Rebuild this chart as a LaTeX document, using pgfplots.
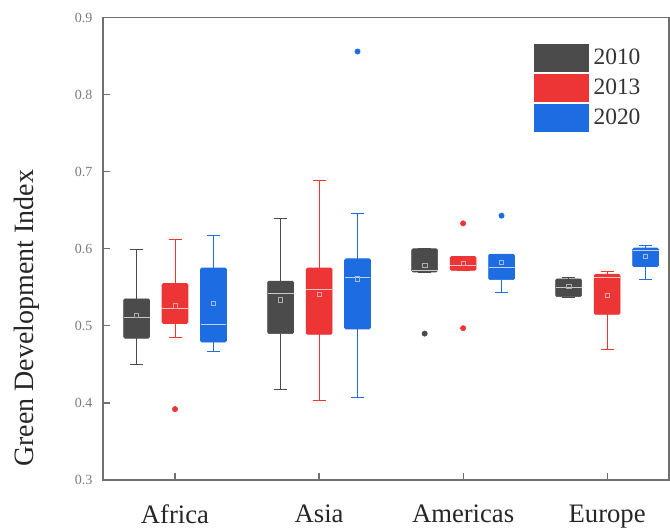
\documentclass[border=0pt]{standalone}
\usepackage{fontspec}
\setmainfont{Liberation Serif}
\usepackage{pgfplots}
\pgfplotsset{compat=1.18}
\usepgfplotslibrary{statistics}

\definecolor{c10}{HTML}{4B4B4B}
\definecolor{c13}{HTML}{EE3535}
\definecolor{c20}{HTML}{1D6CE2}
\definecolor{axisgray}{HTML}{707070}
\definecolor{labelgray}{HTML}{7A7A7A}

% one styled box per region and year
\pgfplotsset{
  gbox/.style={
    solid, draw=#1, forget plot,
    mark=*, mark size=2pt, mark options={draw=#1, fill=#1},
    boxplot/draw direction=y,
    boxplot/box extend=0.18,
    boxplot/whisker extend=0.09,
    boxplot/every box/.style={draw=#1, fill=#1, rounded corners=1pt, line width=0.5pt},
    boxplot/every whisker/.style={draw=#1, line width=0.5pt},
    boxplot/every median/.style={draw=white!70!#1, line width=0.7pt},
  },
  % group means, drawn as small open squares on top of the boxes
  gmean/.style={
    only marks, forget plot, mark=square, mark size=1.6pt,
    mark options={draw=white!55!#1, fill=none, line width=0.4pt},
  },
}

\begin{document}
\begin{tikzpicture}
\begin{axis}[
  name=ax,
  scale only axis,
  width=424.5pt, height=346.8pt,
  xmin=0.5, xmax=4.43,
  ymin=0.3, ymax=0.9,
  xtick={1,2,3,4},
  xticklabels={Africa,Asia,Americas,Europe},
  ytick={0.3,0.4,0.5,0.6,0.7,0.8,0.9},
  tick align=inside,
  tick pos=left,
  major tick length=5pt,
  every tick/.style={axisgray, line width=0.9pt},
  axis line style={axisgray, line width=1.3pt},
  /pgf/number format/assume math mode=true,
  yticklabel style={/pgf/number format/.cd, fixed, fixed zerofill, precision=1,
    /tikz/.cd, font=\fontsize{10.5}{12}\selectfont, text=labelgray, xshift=-4.5pt},
  xticklabel style={font=\fontsize{20}{24}\selectfont, text=black!85, yshift=-15pt},
  ylabel={Green Development Index},
  ylabel style={at={(axis description cs:-0.1343,0.35)}, anchor=center,
    font=\fontsize{21}{25}\selectfont, text=black!85},
  legend style={at={(axis description cs:0.7615,0.943)}, anchor=north west,
    draw=none, fill=none, inner sep=0pt, row sep=1.5pt,
    font=\fontsize{17.6}{20}\selectfont, text=black!80,
    nodes={inner sep=0pt, anchor=west},
    /tikz/every odd column/.append style={column sep=3.5pt}},
  legend cell align=left,
]
% Africa
\addplot[gbox=c10, boxplot prepared={draw position=0.733,
  lower whisker=0.450, lower quartile=0.484, median=0.511,
  upper quartile=0.535, upper whisker=0.599}] coordinates {};
\addplot[gbox=c13, boxplot prepared={draw position=1.0,
  lower whisker=0.485, lower quartile=0.503, median=0.523,
  upper quartile=0.555, upper whisker=0.612}] coordinates {(0,0.392)};
\addplot[gbox=c20, boxplot prepared={draw position=1.267,
  lower whisker=0.467, lower quartile=0.479, median=0.502,
  upper quartile=0.575, upper whisker=0.618}] coordinates {};
% Asia
\addplot[gbox=c10, boxplot prepared={draw position=1.733,
  lower whisker=0.418, lower quartile=0.490, median=0.542,
  upper quartile=0.558, upper whisker=0.639}] coordinates {};
\addplot[gbox=c13, boxplot prepared={draw position=2.0,
  lower whisker=0.404, lower quartile=0.489, median=0.547,
  upper quartile=0.575, upper whisker=0.689}] coordinates {};
\addplot[gbox=c20, boxplot prepared={draw position=2.267,
  lower whisker=0.407, lower quartile=0.496, median=0.563,
  upper quartile=0.587, upper whisker=0.646}] coordinates {(0,0.856)};
% Americas
\addplot[gbox=c10, boxplot prepared={draw position=2.733,
  lower whisker=0.570, lower quartile=0.570, median=0.572,
  upper quartile=0.600, upper whisker=0.600}] coordinates {(0,0.490)};
\addplot[gbox=c13, boxplot prepared={draw position=3.0,
  lower whisker=0.572, lower quartile=0.572, median=0.579,
  upper quartile=0.590, upper whisker=0.590}] coordinates {(0,0.497) (0,0.633)};
\addplot[gbox=c20, boxplot prepared={draw position=3.267,
  lower whisker=0.543, lower quartile=0.560, median=0.576,
  upper quartile=0.593, upper whisker=0.593}] coordinates {(0,0.643)};
% Europe
\addplot[gbox=c10, boxplot prepared={draw position=3.733,
  lower whisker=0.537, lower quartile=0.538, median=0.550,
  upper quartile=0.561, upper whisker=0.563}] coordinates {};
\addplot[gbox=c13, boxplot prepared={draw position=4.0,
  lower whisker=0.470, lower quartile=0.515, median=0.563,
  upper quartile=0.567, upper whisker=0.571}] coordinates {};
\addplot[gbox=c20, boxplot prepared={draw position=4.267,
  lower whisker=0.561, lower quartile=0.577, median=0.598,
  upper quartile=0.601, upper whisker=0.604}] coordinates {};

% means per year
\addplot[gmean=c10] coordinates {(0.733,0.514) (1.733,0.534) (2.733,0.579) (3.733,0.551)};
\addplot[gmean=c13] coordinates {(1.0,0.526) (2.0,0.541) (3.0,0.581) (4.0,0.540)};
\addplot[gmean=c20] coordinates {(1.267,0.529) (2.267,0.561) (3.267,0.583) (4.267,0.590)};

\addlegendimage{legend image code/.code={\fill[c10] (0pt,-10.2pt) rectangle (40.5pt,10.2pt);}}
\addlegendentry{2010}
\addlegendimage{legend image code/.code={\fill[c13] (0pt,-10.2pt) rectangle (40.5pt,10.2pt);}}
\addlegendentry{2013}
\addlegendimage{legend image code/.code={\fill[c20] (0pt,-10.2pt) rectangle (40.5pt,10.2pt);}}
\addlegendentry{2020}
\end{axis}
\pgfresetboundingbox
\path[use as bounding box] (ax.south west) ++(-77.25pt,-38.25pt)
  rectangle ([shift={(0.7pt,13.2pt)}]ax.north east);
\end{tikzpicture}
\end{document}
